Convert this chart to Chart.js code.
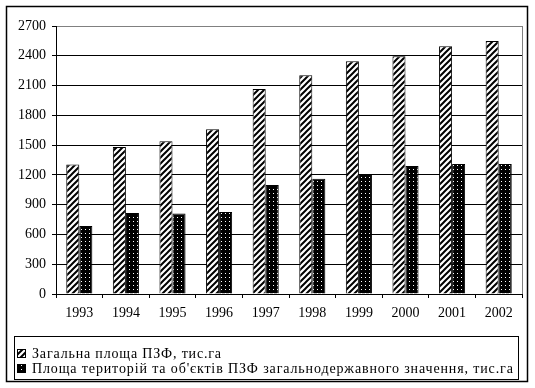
<!DOCTYPE html>
<html>
<head>
<meta charset="utf-8">
<script src="https://cdn.jsdelivr.net/npm/chart.js@4"></script>
<style>
  html, body { margin: 0; padding: 0; background: #fff; }
  #wrap { width: 535px; height: 388px; position: relative; }
  .probe { font-family: "Liberation Serif"; position: absolute; left: -999px; }
</style>
</head>
<body>
<span class="probe">0123 Загальна</span>
<div id="wrap"><canvas id="chart" width="535" height="388"></canvas></div>
<script>
// Data
const years = ['1993', '1994', '1995', '1996', '1997', '1998', '1999', '2000', '2001', '2002'];
const totalArea = [1305, 1480, 1540, 1660, 2065, 2205, 2345, 2395, 2495, 2550];
const stateArea = [685, 815, 812, 825, 1098, 1160, 1208, 1290, 1310, 1310];
const seriesNames = [
  'Загальна площа ПЗФ, тис.га',
  "Площа територій та об'єктів ПЗФ загальнодержавного значення, тис.га",
];

const FONT = '"Liberation Serif", serif';

// diagonal hatch "/" on white
function hatchPattern() {
  const c = document.createElement('canvas');
  c.width = 6; c.height = 6;
  const g = c.getContext('2d');
  g.fillStyle = '#fff';
  g.fillRect(0, 0, 6, 6);
  g.strokeStyle = '#000';
  g.lineWidth = 2;
  g.beginPath();
  g.moveTo(-1, 7); g.lineTo(7, -1);
  g.moveTo(-1, 1); g.lineTo(1, -1);
  g.moveTo(5, 7); g.lineTo(7, 5);
  g.stroke();
  return g.createPattern(c, 'repeat');
}

// white dots on black
function dotPattern() {
  const c = document.createElement('canvas');
  c.width = 4; c.height = 4;
  const g = c.getContext('2d');
  g.fillStyle = '#000';
  g.fillRect(0, 0, 4, 4);
  g.fillStyle = '#fff';
  g.fillRect(1, 1, 1, 1);
  return g.createPattern(c, 'repeat');
}

const fills = [hatchPattern(), dotPattern()];

// frame, plot border and the boxed legend
const decorations = {
  id: 'decorations',
  afterDraw(chart) {
    const { ctx, chartArea: a } = chart;
    ctx.save();
    // gray right edge of the plot area
    ctx.strokeStyle = '#808080';
    ctx.lineWidth = 1;
    ctx.beginPath();
    ctx.moveTo(Math.round(a.right) + 0.5, a.top);
    ctx.lineTo(Math.round(a.right) + 0.5, a.bottom);
    ctx.stroke();

    // outer frame
    ctx.strokeStyle = '#000';
    ctx.lineWidth = 1.5;
    ctx.strokeRect(6.5, 6.5, 521, 375);

    // legend box
    ctx.lineWidth = 1;
    ctx.strokeRect(14.5, 336.5, 504, 43);

    const rows = [354, 369];
    const targets = [190, 482];
    ctx.font = '14px ' + FONT;
    ctx.textBaseline = 'middle';
    seriesNames.forEach((name, i) => {
      const y = rows[i];
      ctx.fillStyle = fills[i];
      ctx.fillRect(17.5, y - 4.5, 8, 8);
      ctx.strokeStyle = '#000';
      ctx.strokeRect(17.5, y - 4.5, 8, 8);
      ctx.fillStyle = '#000';
      ctx.letterSpacing = '0px';
      const w = ctx.measureText(name).width;
      const sp = Math.max(0, (targets[i] - w) / name.length);
      ctx.letterSpacing = sp.toFixed(2) + 'px';
      ctx.fillText(name, 32, y);
    });
    ctx.letterSpacing = '0px';
    ctx.restore();
  },
};

function draw() {
  new Chart(document.getElementById('chart'), {
    type: 'bar',
    data: {
      labels: years,
      datasets: [
        {
          label: seriesNames[0],
          data: totalArea,
          backgroundColor: fills[0],
          borderColor: '#000',
          borderWidth: 1,
          categoryPercentage: 0.56,
          barPercentage: 1.0,
        },
        {
          label: seriesNames[1],
          data: stateArea,
          backgroundColor: fills[1],
          borderColor: '#000',
          borderWidth: 1,
          categoryPercentage: 0.56,
          barPercentage: 1.0,
        },
      ],
    },
    options: {
      responsive: false,
      animation: false,
      layout: { padding: { top: 26, right: 13, bottom: 64, left: 0 } },
      scales: {
        x: {
          afterFit(scale) { scale.height = 30; },
          border: { color: '#000', width: 1 },
          grid: {
            offset: true,
            drawOnChartArea: false,
            drawTicks: true,
            tickLength: 4,
            color: '#000',
          },
          ticks: {
            color: '#000',
            font: { family: FONT, size: 14 },
            padding: 7,
            maxRotation: 0,
          },
        },
        y: {
          min: 0,
          max: 2700,
          afterFit(scale) { scale.width = 56; },
          border: { color: '#000', width: 1 },
          grid: {
            color: (c) => (c.tick && c.tick.value === 2700 ? '#808080' : '#000'),
            tickColor: '#000',
            tickLength: 4,
          },
          ticks: {
            stepSize: 300,
            color: '#000',
            font: { family: FONT, size: 14 },
            padding: 6,
            callback: (v) => String(v),
          },
        },
      },
      plugins: {
        legend: { display: false },
        tooltip: { enabled: false },
      },
    },
    plugins: [decorations],
  });
}

document.fonts.load('14px "Liberation Serif"').then(draw, draw);
</script>
</body>
</html>
